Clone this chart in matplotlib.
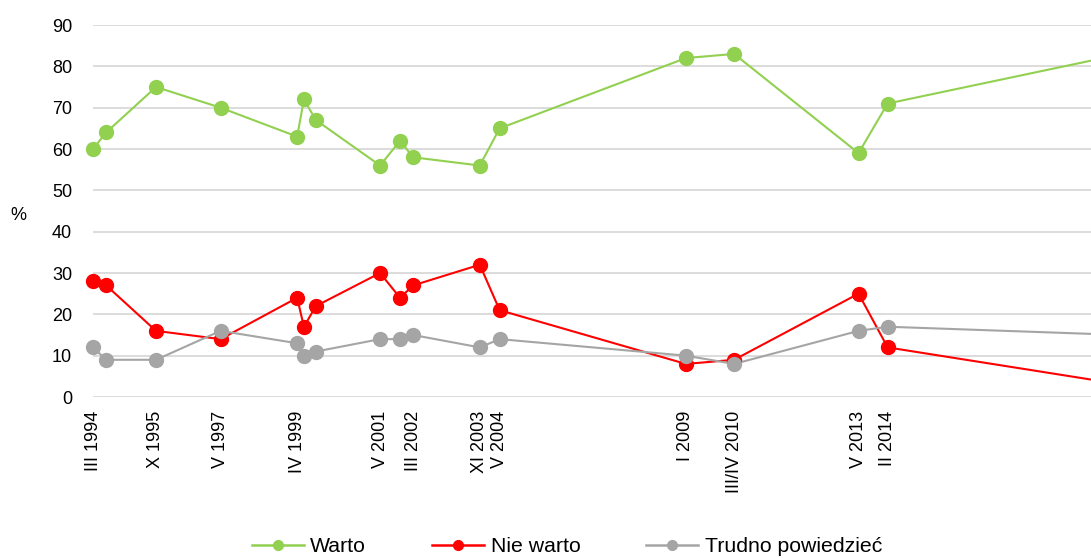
import matplotlib
matplotlib.use("Agg")
import matplotlib.pyplot as plt
from matplotlib.lines import Line2D

plt.rcParams['font.family'] = ['Liberation Sans', 'DejaVu Sans']

# dane - rok jako ulamek (os czasu jak w Excelu)
years = [1994.17, 1994.5, 1995.75, 1997.37, 1999.29, 1999.46, 1999.76, 2001.37, 2001.87,
         2002.2, 2003.87, 2004.37, 2009.04, 2010.25, 2013.37, 2014.1, 2020.0]
warto = [60, 64, 75, 70, 63, 72, 67, 56, 62, 58, 56, 65, 82, 83, 59, 71, 83]
nie_warto = [28, 27, 16, 14, 24, 17, 22, 30, 24, 27, 32, 21, 8, 9, 25, 12, 3]
trudno = [12, 9, 9, 16, 13, 10, 11, 14, 14, 15, 12, 14, 10, 8, 16, 17, 15]

tick_years = [1994.17, 1995.75, 1997.37, 1999.29, 2001.37, 2002.2, 2003.87, 2004.37,
              2009.04, 2010.25, 2013.37, 2014.1]
tick_labels = ["III 1994", "X 1995", "V 1997", "IV 1999", "V 2001", "III 2002", "XI 2003",
               "V 2004", "I 2009", "III/IV 2010", "V 2013", "II 2014"]

series = [("Warto", warto, "#92D050"),
          ("Nie warto", nie_warto, "#FF0000"),
          ("Trudno powiedzieć", trudno, "#A5A5A5")]

fig = plt.figure(figsize=(10.91, 5.58), dpi=100)
ax = fig.add_axes([93/1091, 161/558, 1 - 93/1091, (397-25)/558])

x_min, x_max = 1994.17, 2019.2
handles = []
for name, vals, col in series:
    ax.plot(years, vals, color=col, lw=1.5, zorder=3)
    # markery tylko dla punktow widocznych, bez obcinania na krawedzi
    vis = [i for i in range(len(years)) if x_min - 0.01 <= years[i] <= x_max]
    ax.plot([years[i] for i in vis], [vals[i] for i in vis], 'o', color=col,
            ms=10, clip_on=False, zorder=4)
    handles.append(Line2D([0], [0], color=col, lw=1.8, marker='o', ms=7))

ax.set_xlim(x_min, x_max)
ax.set_ylim(0, 90)
ax.set_yticks(range(0, 91, 10))
ax.set_xticks(tick_years)
ax.set_xticklabels(tick_labels, rotation=90, va='top', ha='center')
ax.tick_params(axis='both', length=0, labelsize=13)
ax.tick_params(axis='y', pad=15)
ax.tick_params(axis='x', pad=10)
ax.grid(axis='y', color='#D9D9D9', lw=1.3)
ax.set_axisbelow(True)
for s in ax.spines.values():
    s.set_visible(False)

fig.text(18/1091, 1 - 215/558, "%", fontsize=13, va='center', ha='center')

fig.legend(handles, [s[0] for s in series], loc='center', ncol=3,
           bbox_to_anchor=(567/1091, 1 - 547/558), frameon=False, fontsize=15.3,
           handlelength=2.45, handletextpad=0.3, columnspacing=3.1)

fig.savefig("out.png", dpi=100)
